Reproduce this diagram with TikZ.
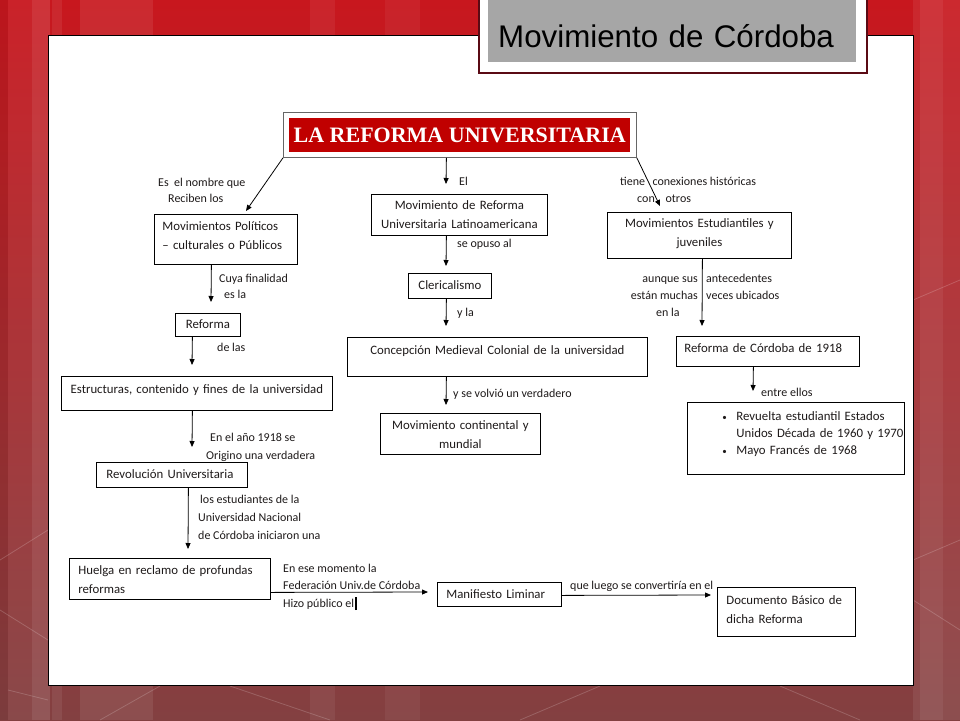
\documentclass[tikz,border=0pt]{standalone}
\usepackage{fontspec}
\setmainfont{Carlito}
\newfontfamily\boxfont{Carlito}[WordSpace=0.75]
\newfontfamily\sansttl{Liberation Sans}
\newfontfamily\serifhd{Liberation Serif}
\usetikzlibrary{arrows.meta,calc}
\definecolor{bgtop}{HTML}{C8171E}
\definecolor{bgmid}{HTML}{A8303C}
\definecolor{bgbot}{HTML}{834041}
\definecolor{ttlborder}{HTML}{5A0A14}
\definecolor{ttlgray}{HTML}{A6A6A6}
\definecolor{headred}{HTML}{C00000}
\definecolor{txt}{HTML}{1E1A1A}
\begin{document}
\begin{tikzpicture}[x=1pt,y=-1pt,
  box/.style={draw=black, line width=0.8pt, fill=white, inner ysep=0pt, anchor=north west,
    font=\boxfont\fontsize{12.8}{19}\selectfont, text=txt},
  lbl/.style={font=\fontsize{12}{17}\selectfont, inner sep=0pt, anchor=base west, text=txt},
  lblr/.style={lbl, anchor=base east},
  arr/.style={line width=0.8pt, -{Triangle[length=6pt,width=5pt]}},
  stripe/.style={fill=white, opacity=#1},
  bgline/.style={draw=white, opacity=0.18, line width=0.8pt}
]
\useasboundingbox (0,0) rectangle (960,720);
% background
\shade[top color=bgtop, middle color=bgmid, bottom color=bgbot] (0,0) rectangle (960,720);
\fill[black, opacity=0.06] (0,0) rectangle (8,720);
\fill[stripe=0.05] (8,0) rectangle (32,720);
\fill[stripe=0.12] (32,0) rectangle (50,720);
\fill[stripe=0.07] (52,0) rectangle (62,720);
\fill[stripe=0.08] (80,0) rectangle (153,720);
\fill[stripe=0.06] (310,0) rectangle (335,720);
\fill[stripe=0.05] (385,0) rectangle (420,720);
\fill[stripe=0.07] (913,0) rectangle (920,720);
\fill[stripe=0.13] (920,0) rectangle (943,720);
\fill[stripe=0.08] (943,0) rectangle (960,720);
\draw[bgline] (0,560) -- (48,530);
\draw[bgline] (0,610) -- (48,640);
\draw[bgline] (8,690) -- (48,700);
\draw[bgline] (100,720) -- (160,686);
\draw[bgline] (230,686) -- (330,720);
\draw[bgline] (520,720) -- (600,686);
\draw[bgline] (780,686) -- (860,720);
\draw[bgline] (913,300) -- (960,280);
\draw[bgline] (913,560) -- (960,540);
\draw[bgline] (913,600) -- (960,630);
% panel
\node[draw=black, line width=0.9pt, fill=white, anchor=north west, inner sep=0pt,
  minimum width=865pt, minimum height=650pt] (panel) at (48,35) {};
% title
\node[draw=ttlborder, line width=1.6pt, fill=white, anchor=north west, inner sep=0pt,
  minimum width=388pt, minimum height=75pt] (ttlframe) at (478,-3) {};
\node[fill=ttlgray, anchor=north west, inner xsep=10pt, inner ysep=0pt, text width=348pt,
  align=left, text height=47pt, text depth=15pt,
  font=\sansttl\fontsize{31.3}{36}\selectfont] (ttl) at (488,0) {Movimiento de Córdoba};
% head box
\node[draw=black!60, line width=0.8pt, fill=white, anchor=north west, inner sep=0pt,
  minimum width=353pt, minimum height=45pt] (tp) at (283,112) {};
\node[fill=headred, anchor=north west, inner sep=0pt, minimum width=341pt, minimum height=34pt,
  text=white, font=\serifhd\bfseries\fontsize{22}{24}\selectfont] (tpin) at (289,118)
  {LA REFORMA UNIVERSITARIA};
% boxes
\node[box, align=left, inner xsep=8pt, text width=127pt, text height=16pt, text depth=34pt] (mp)
  at (154,214) {Movimientos Políticos\\– culturales o Públicos};
\node[box, align=center, inner xsep=4pt, text width=168pt, text height=15pt, text depth=26pt] (mr)
  at (371,194) {Movimiento de Reforma\\Universitaria Latinoamericana};
\node[box, align=center, inner xsep=4pt, text width=176pt, text height=15pt, text depth=31pt] (me)
  at (607,212) {Movimientos Estudiantiles y\\juveniles};
\node[box, align=center, inner xsep=4pt, text width=75pt, text height=16pt, text depth=9pt] (cl)
  at (408,273) {Clericalismo};
\node[box, align=center, inner xsep=4pt, text width=57pt, text height=15pt, text depth=8pt] (rf)
  at (175,313) {Reforma};
\node[box, align=center, inner xsep=4pt, text width=292pt, text height=17pt, text depth=22pt] (cm)
  at (347,337) {Concepción Medieval Colonial de la universidad};
\node[box, align=left, inner xsep=8pt, text width=167pt, text height=16pt, text depth=14pt] (rc)
  at (676,336) {Reforma de Córdoba de 1918};
\node[box, align=center, inner xsep=4pt, text width=263pt, text height=17pt, text depth=17pt] (es)
  at (61,376) {Estructuras, contenido y fines de la universidad};
\node[box, align=center, inner xsep=4pt, text width=152pt, text height=16pt, text depth=25pt] (mc)
  at (380,413) {Movimiento continental y\\mundial};
\node[box, align=left, inner xsep=0pt, text width=217pt, text height=18pt, text depth=54pt,
  font=\boxfont\fontsize{12.8}{17}\selectfont] (bl) at (687,402)
  {\hspace*{35pt}\mbox{\makebox[14pt][l]{\fontsize{9}{9}\selectfont\textbullet}Revuelta estudiantil Estados}\\
   \hspace*{49pt}\mbox{Unidos Década de 1960 y 1970}\\
   \hspace*{35pt}\mbox{\makebox[14pt][l]{\fontsize{9}{9}\selectfont\textbullet}Mayo Francés de 1968}};
\node[box, align=left, inner xsep=10pt, text width=131pt, text height=16pt, text depth=9pt] (rv)
  at (96,462) {Revolución Universitaria};
\node[box, align=left, inner xsep=9pt, text width=183pt, text height=16pt, text depth=25pt] (hu)
  at (69,558) {Huelga en reclamo de profundas\\reformas};
\node[box, align=left, inner xsep=9pt, text width=106pt, text height=16pt, text depth=8pt] (ml)
  at (437,582) {Manifiesto Liminar};
\node[box, align=left, inner xsep=9pt, text width=120pt, text height=17pt, text depth=32pt] (db)
  at (717,587) {Documento Básico de\\dicha Reforma};
% arrow tips
\coordinate (t1) at (246,211);
\coordinate (t2) at (446,184);
\coordinate (t3) at (660,206);
\coordinate (t4) at (211,302);
\coordinate (t5) at (446,266);
\coordinate (t6) at (702,326);
\coordinate (t7) at (446,326);
\coordinate (t8) at (192,365);
\coordinate (t9) at (446,405);
\coordinate (t10) at (753,391);
\coordinate (t11) at (192,447);
\coordinate (t12) at (188,549);
\coordinate (t13) at (428,592);
\coordinate (t14) at (711,595);
% connectors
\draw[arr] (tp.south west) -- (t1);
\draw[arr] ([xshift=-13.5pt]tp.south) -- (t2);
\draw[arr] (tp.south east) -- (t3);
\draw[arr] ([xshift=-14.5pt]mp.south) -- (t4);
\draw[arr] ([xshift=-13pt]mr.south) -- (t5);
\draw[arr] ([xshift=3pt]me.south) -- (t6);
\draw[arr] ([xshift=-3.5pt]cl.south) -- (t7);
\draw[arr] ([xshift=-15.5pt]rf.south) -- (t8);
\draw[arr] ([xshift=-51pt]cm.south) -- (t9);
\draw[arr] ([xshift=-14.5pt]rc.south) -- (t10);
\draw[arr] ([xshift=-4.5pt]es.south) -- (t11);
\draw[arr] ([xshift=16.5pt]rv.south) -- (t12);
\draw[arr] ([yshift=-13.5pt]hu.east) -- (t13);
\draw[arr] ([yshift=-1pt]ml.east) -- (t14);
% labels
\node[lbl] (l1a) at (158,186) {Es \ el nombre que};
\node[lbl] (l1b) at (168,202) {Reciben los};
\node[lbl] (l2) at (459,185) {El};
\node[lbl] (l3a) at (620,185) {tiene \ \,conexiones históricas};
\node[lbl] (l3b) at (637,202) {con \ \ \ otros};
\node[lbl] (l4a) at (219,282) {Cuya finalidad};
\node[lbl] (l4b) at (224,298) {es la};
\node[lbl] (l5) at (457,247) {se opuso al};
\node[lblr] (l6a) at (698,282) {aunque sus};
\node[lbl] (l6b) at (706,282) {antecedentes};
\node[lblr] (l6c) at (698,299) {están muchas};
\node[lbl] (l6d) at (706,299) {veces ubicados};
\node[lbl] (l6e) at (656,316) {en la};
\node[lbl] (l7) at (457,316) {y la};
\node[lbl] (l8) at (217,351) {de las};
\node[lbl] (l9) at (453,397) {y se volvió un verdadero};
\node[lbl] (l10) at (761,396) {entre ellos};
\node[lbl] (l11a) at (210,441) {En el año 1918 se};
\node[lbl] (l11b) at (206,459) {Origino una verdadera};
\node[lbl] (l12a) at (200,503) {los estudiantes de la};
\node[lbl] (l12b) at (198,521) {Universidad Nacional};
\node[lbl] (l12c) at (198,539) {de Córdoba iniciaron una};
\node[lbl] (l13a) at (283,572) {En ese momento la};
\node[lbl] (l13b) at (283,589) {Federación Univ.de Córdoba};
\node[lbl] (l13c) at (283,607) {Hizo público el};
\draw[line width=1.6pt] ([xshift=1.5pt,yshift=-3pt]l13c.base east) -- ([xshift=1.5pt,yshift=10pt]l13c.base east);
\node[lbl] (l14) at (570,589) {que luego se convertiría en el};
\end{tikzpicture}
\end{document}
